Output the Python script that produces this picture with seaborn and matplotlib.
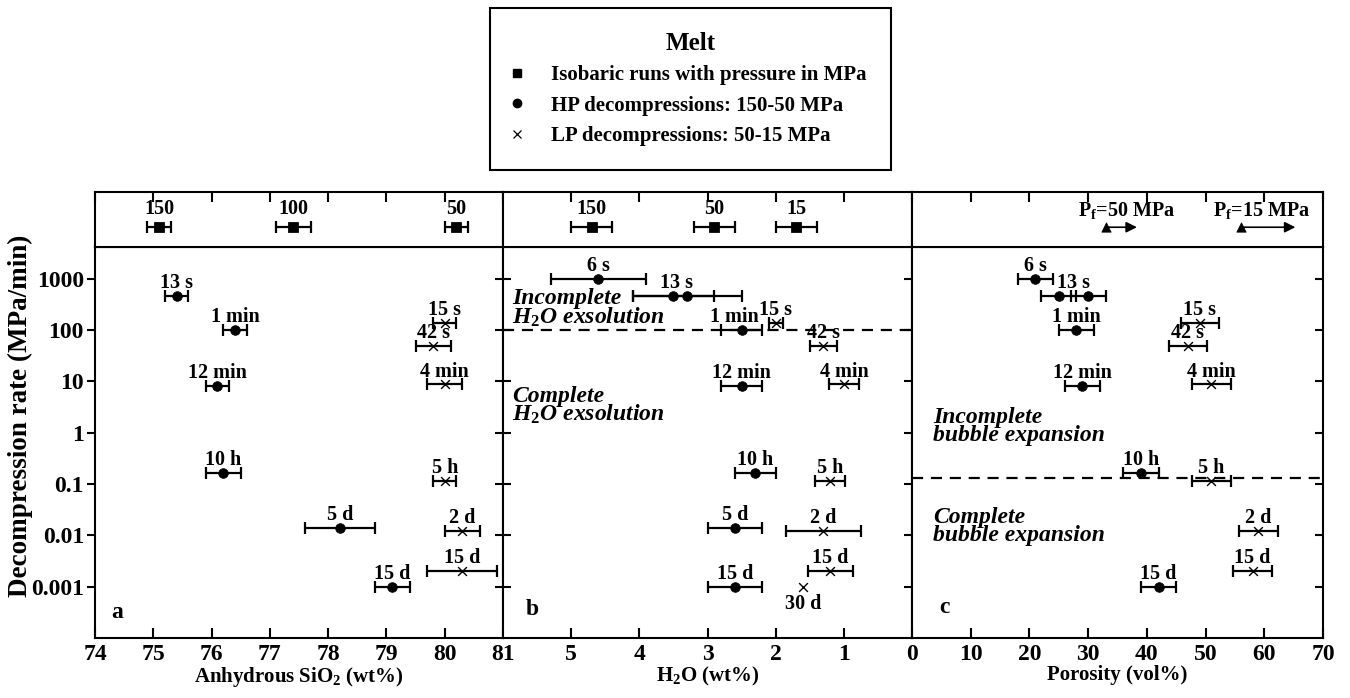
import matplotlib

matplotlib.use("Agg")
import matplotlib.pyplot as plt
from matplotlib.lines import Line2D
import pandas as pd
import seaborn as sns

# --- isobaric runs (top strips) ---
iso_pressure_a = ["150", "100", "50"]
iso_sio2 = [75.1, 77.4, 80.2]
iso_sio2_err = [0.2, 0.3, 0.2]

iso_pressure_b = ["150", "50", "15"]
iso_h2o = [4.7, 2.9, 1.7]
iso_h2o_err = [0.3, 0.3, 0.3]

# final pressure porosity arrows (start, end)
pf_labels = ["P$_{f}$=50 MPa", "P$_{f}$=15 MPa"]
pf_start = [33, 56]
pf_end = [38.3, 65.3]

# --- decompression rates (MPa/min) ---
hp_rate = {"6 s": 1000, "13 s": 461, "1 min": 100, "12 min": 8.3,
           "10 h": 0.167, "5 d": 0.0139, "15 d": 0.001}
lp_rate = {"15 s": 140, "42 s": 50, "4 min": 8.75, "5 h": 0.117,
           "2 d": 0.0122, "15 d": 0.002, "30 d": 0.001}

# panel a: anhydrous SiO2
a_hp_runs = ["13 s", "1 min", "12 min", "10 h", "5 d", "15 d"]
a_hp_sio2 = [75.4, 76.4, 76.1, 76.2, 78.2, 79.1]
a_hp_err = [0.2, 0.2, 0.2, 0.3, 0.6, 0.3]
a_lp_runs = ["15 s", "42 s", "4 min", "5 h", "2 d", "15 d"]
a_lp_sio2 = [80.0, 79.8, 80.0, 80.0, 80.3, 80.3]
a_lp_err = [0.2, 0.3, 0.3, 0.2, 0.3, 0.6]

# panel b: H2O
b_hp_runs = ["6 s", "13 s", "13 s", "1 min", "12 min", "10 h", "5 d", "15 d"]
b_hp_h2o = [4.6, 3.5, 3.3, 2.5, 2.5, 2.3, 2.6, 2.6]
b_hp_err = [0.7, 0.6, 0.8, 0.3, 0.3, 0.3, 0.4, 0.4]
b_lp_runs = ["15 s", "42 s", "4 min", "5 h", "2 d", "15 d", "30 d"]
b_lp_h2o = [2.0, 1.3, 1.0, 1.2, 1.3, 1.2, 1.6]
b_lp_err = [0.1, 0.2, 0.22, 0.22, 0.55, 0.33, 0.0]

# panel c: porosity
c_hp_runs = ["6 s", "13 s", "13 s", "1 min", "12 min", "10 h", "15 d"]
c_hp_por = [21, 25, 30, 28, 29, 39, 42]
c_hp_err = [3, 3, 3, 3, 3, 3, 3]
c_lp_runs = ["15 s", "42 s", "4 min", "5 h", "2 d", "15 d"]
c_lp_por = [49, 47, 51, 51, 59, 58]
c_lp_err = [3.2, 3.3, 3.3, 3.3, 3.3, 3.3]

y_ticks = [0.001, 0.01, 0.1, 1, 10, 100, 1000]
y_ticklabels = ["0.001", "0.01", "0.1", "1", "10", "100", "1000"]

sns.set_theme(style="ticks")
plt.rcParams["font.family"] = ["Liberation Serif", "DejaVu Serif"]
plt.rcParams.update({
    "font.weight": "bold",
    "axes.labelweight": "bold",
    "mathtext.fontset": "custom",
    "mathtext.rm": "Liberation Serif:bold",
    "mathtext.it": "Liberation Serif:italic:bold",
    "mathtext.bf": "Liberation Serif:bold",
    "mathtext.default": "rm",
    "axes.linewidth": 1.5,
    "axes.edgecolor": "black",
    "axes.labelcolor": "black",
    "text.color": "black",
    "xtick.color": "black",
    "ytick.color": "black",
})

fig = plt.figure(figsize=(13.5, 6.98), dpi=100)

lefts = [0.0704, 0.3726, 0.6756]
widths = [0.3022, 0.3030, 0.3044]
main_bottom, main_h = 0.0860, 0.5602
top_bottom, top_h = 0.6461, 0.0788
y_lim = (1e-4, 10 ** 3.62)
STRIP_Y = 0.36
LABEL_SIZE = 14.5
# small horizontal nudges (points) for crowded run labels
label_nudge = {(1, "1 min"): -5, (1, "13 s"): -3}


def make_df(runs, xs, errs, rates):
    return pd.DataFrame({"run": runs, "x": xs, "err": errs,
                         "rate": [rates[r] for r in runs]})


def draw_runs(ax, df, marker, panel, below=()):
    bars = df[df["err"] > 0]
    ax.errorbar(bars["x"], bars["rate"], xerr=bars["err"], fmt="none",
                ecolor="black", elinewidth=1.6, capsize=4.5, capthick=1.6, zorder=2)
    if marker == "o":
        sns.scatterplot(data=df, x="x", y="rate", marker="o", color="black",
                        s=48, edgecolor="black", ax=ax, zorder=3, legend=False)
    else:
        sns.scatterplot(data=df, x="x", y="rate", marker="x", color="black",
                        s=40, linewidth=1.0, ax=ax, zorder=3, legend=False)
    for run, g in df.groupby("run", sort=False):
        dx = label_nudge.get((panel, run), 0)
        if run in below:
            ax.annotate(run, (g["x"].mean(), g["rate"].min()), xytext=(dx, -5),
                        textcoords="offset points", ha="center", va="top",
                        fontsize=LABEL_SIZE, fontweight="bold")
        else:
            ax.annotate(run, (g["x"].mean(), g["rate"].max()), xytext=(dx, 2),
                        textcoords="offset points", ha="center", va="bottom",
                        fontsize=LABEL_SIZE, fontweight="bold")


def draw_iso(ax, labels, xs, errs):
    df = pd.DataFrame({"p": labels, "x": xs, "err": errs, "y": STRIP_Y})
    ax.errorbar(df["x"], df["y"], xerr=df["err"], fmt="none", ecolor="black",
                elinewidth=1.6, capsize=4.5, capthick=1.6)
    sns.scatterplot(data=df, x="x", y="y", marker="s", color="black", s=50,
                    edgecolor="black", ax=ax, legend=False, zorder=3)
    for _, r in df.iterrows():
        ax.annotate(r["p"], (r["x"], r["y"]), xytext=(0, 6),
                    textcoords="offset points", ha="center", va="bottom",
                    fontsize=LABEL_SIZE, fontweight="bold")


panels = []
for i in range(3):
    ax = fig.add_axes([lefts[i], main_bottom, widths[i], main_h])
    axt = fig.add_axes([lefts[i], top_bottom, widths[i], top_h])
    panels.append((ax, axt))

xlims = [(74, 81), (6, 0), (0, 70)]
xticks = [list(range(74, 82)), [5, 4, 3, 2, 1], list(range(0, 71, 10))]
xlabels = ["Anhydrous SiO$_2$ (wt%)", "H$_2$O (wt%)", "Porosity (vol%)"]
letters = [("a", 0.054, 0.066), ("b", 0.071, 0.072), ("c", 0.08, 0.079)]

data = [
    (make_df(a_hp_runs, a_hp_sio2, a_hp_err, hp_rate),
     make_df(a_lp_runs, a_lp_sio2, a_lp_err, lp_rate)),
    (make_df(b_hp_runs, b_hp_h2o, b_hp_err, hp_rate),
     make_df(b_lp_runs, b_lp_h2o, b_lp_err, lp_rate)),
    (make_df(c_hp_runs, c_hp_por, c_hp_err, hp_rate),
     make_df(c_lp_runs, c_lp_por, c_lp_err, lp_rate)),
]

for i, (ax, axt) in enumerate(panels):
    hp, lp = data[i]
    ax.set_yscale("log")
    draw_runs(ax, hp, "o", i)
    draw_runs(ax, lp, "x", i, below=("30 d",))
    ax.set_xlim(*xlims[i])
    ax.set_ylim(*y_lim)
    ax.set_xticks(xticks[i])
    ax.set_xticklabels([str(t) for t in xticks[i]], fontsize=17, fontweight="bold")
    ax.set_yticks(y_ticks)
    ax.minorticks_off()
    ax.tick_params(axis="x", direction="in", length=7, width=1.5, pad=4)
    ax.set_xlabel(xlabels[i], fontsize=15, fontweight="bold", labelpad=0)
    ax.set_ylabel("")
    if i == 0:
        ax.set_yticklabels(y_ticklabels, fontsize=17, fontweight="bold")
        ax.tick_params(axis="y", direction="out", length=6, width=1.5,
                       left=True, right=False, pad=2)
    elif i == 1:
        ax.set_yticklabels([])
        ax.tick_params(axis="y", direction="inout", length=12, width=1.5,
                       left=True, right=True)
    else:
        ax.set_yticklabels([])
        ax.tick_params(axis="y", direction="in", length=6, width=1.5,
                       left=False, right=True)
    lt, lx, ly = letters[i]
    ax.text(lx, ly, lt, transform=ax.transAxes, ha="center", va="center",
            fontsize=17, fontweight="bold")

    axt.set_xlim(*xlims[i])
    axt.set_ylim(0, 1)
    axt.set_xticks(xticks[i])
    axt.set_yticks([])
    axt.tick_params(axis="x", direction="in", length=7, width=1.5,
                    bottom=False, top=True, labelbottom=False)
    axt.set_xlabel("")
    axt.set_ylabel("")

draw_iso(panels[0][1], iso_pressure_a, iso_sio2, iso_sio2_err)
draw_iso(panels[1][1], iso_pressure_b, iso_h2o, iso_h2o_err)

# porosity arrows for final pressure
axc_t = panels[2][1]
pf_df = pd.DataFrame({"x": pf_start, "y": STRIP_Y})
sns.scatterplot(data=pf_df, x="x", y="y", marker="^", color="black", s=45,
                edgecolor="black", ax=axc_t, legend=False, zorder=3)
for lab, x0, x1 in zip(pf_labels, pf_start, pf_end):
    axc_t.annotate("", xy=(x1, STRIP_Y), xytext=(x0, STRIP_Y),
                   arrowprops=dict(arrowstyle="-|>", color="black", lw=1.2,
                                   mutation_scale=16, shrinkA=0, shrinkB=0))
    axc_t.text(x0 - 4.7, 0.66, lab, ha="left", va="center", fontsize=LABEL_SIZE,
               fontweight="bold")
axc_t.set_xlabel("")
axc_t.set_ylabel("")

# thresholds and annotations
axb = panels[1][0]
axc = panels[2][0]
axb.axhline(100, color="black", lw=1.6, ls=(0, (5, 3.5)), zorder=1)
axc.axhline(0.13, color="black", lw=1.6, ls=(0, (5, 3.5)), zorder=1)

note = dict(fontsize=17, fontweight="bold", style="italic", ha="left",
            va="top", linespacing=0.8)
axb.text(0.022, 0.895, "Incomplete\nH$_\\mathit{2}$O exsolution",
         transform=axb.transAxes, **note)
axb.text(0.022, 0.645, "Complete\nH$_\\mathit{2}$O exsolution",
         transform=axb.transAxes, **note)
axc.text(0.051, 0.59, "Incomplete\nbubble expansion",
         transform=axc.transAxes, **note)
axc.text(0.051, 0.335, "Complete\nbubble expansion",
         transform=axc.transAxes, **note)

fig.text(20 / 1350, 0.404, "Decompression rate (MPa/min)", rotation=90,
         ha="center", va="center", fontsize=19.5, fontweight="bold")

# legend box
handles = [
    Line2D([], [], marker="s", ls="none", color="black", markersize=6),
    Line2D([], [], marker="o", ls="none", color="black", markersize=6),
    Line2D([], [], marker="x", ls="none", color="black", markersize=6,
           markeredgewidth=0.9),
]
labels = ["Isobaric runs with pressure in MPa",
          "HP decompressions: 150-50 MPa",
          "LP decompressions: 50-15 MPa"]
leg = fig.legend(handles, labels, title="Melt", loc="upper left",
                 bbox_to_anchor=(490 / 1350, 1 - 8 / 698), frameon=True,
                 fancybox=False, edgecolor="black", framealpha=1,
                 prop={"size": 15, "weight": "bold"},
                 title_fontproperties={"size": 18, "weight": "bold"},
                 borderpad=1.15, labelspacing=0.5, handletextpad=1.5,
                 handlelength=0.3, borderaxespad=0)
leg.get_frame().set_linewidth(1.5)

fig.savefig("out.png", dpi=100)
